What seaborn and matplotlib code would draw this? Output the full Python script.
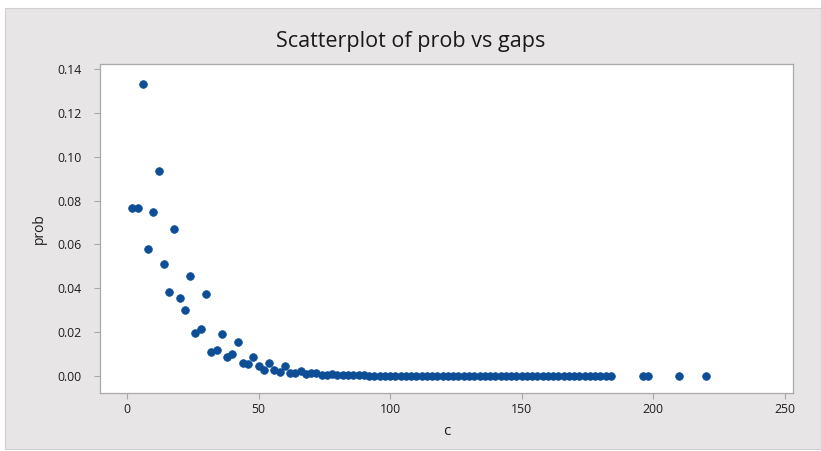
import matplotlib
matplotlib.use("Agg")
import matplotlib.pyplot as plt
import seaborn as sns
import pandas as pd
from matplotlib.patches import Rectangle

# Gap sizes between consecutive primes and their relative frequencies
gaps = [2, 4, 6, 8, 10, 12, 14, 16, 18, 20, 22, 24, 26, 28, 30, 32, 34, 36, 38, 40,
        42, 44, 46, 48, 50, 52, 54, 56, 58, 60, 62, 64, 66, 68, 70, 72, 74, 76, 78, 80,
        82, 84, 86, 88, 90, 92, 94, 96, 98, 100, 102, 104, 106, 108, 110, 112, 114, 116, 118, 120,
        122, 124, 126, 128, 130, 132, 134, 136, 138, 140, 142, 144, 146, 148, 150, 152, 154, 156, 158, 160,
        162, 164, 166, 168, 170, 172, 174, 176, 178, 180, 182, 184, 196, 198, 210, 220]
prob = [0.0764, 0.0764, 0.1334, 0.0580, 0.0746, 0.0934, 0.0509, 0.0382, 0.0668, 0.0354,
        0.0300, 0.0458, 0.0197, 0.0215, 0.0375, 0.0107, 0.0118, 0.0190, 0.0086, 0.0100,
        0.0153, 0.0059, 0.0054, 0.0087, 0.0044, 0.0029, 0.0059, 0.0026, 0.0019, 0.0047,
        0.0012, 0.0011, 0.0024, 0.0008, 0.0012, 0.0012, 0.0004, 0.0004, 0.0007, 0.0004,
        0.0002, 0.0005, 0.0002, 0.0002, 0.0003, 0.0001, 0.0001, 0.0001, 0.0001, 0.0001,
        0.0001, 0.0, 0.0, 0.0001, 0.0, 0.0, 0.0, 0.0, 0.0, 0.0,
        0.0, 0.0, 0.0, 0.0, 0.0, 0.0, 0.0, 0.0, 0.0, 0.0,
        0.0, 0.0, 0.0, 0.0, 0.0, 0.0, 0.0, 0.0, 0.0, 0.0,
        0.0, 0.0, 0.0, 0.0, 0.0, 0.0, 0.0, 0.0, 0.0, 0.0,
        0.0, 0.0, 0.0, 0.0, 0.0, 0.0]

x_ticks = [0, 50, 100, 150, 200, 250]
y_ticks = [0.00, 0.02, 0.04, 0.06, 0.08, 0.10, 0.12, 0.14]

df = pd.DataFrame({"c": gaps, "prob": prob})

sns.set_theme(style="white")
plt.rcParams["font.family"] = ["Open Sans", "DejaVu Sans"]

fig = plt.figure(figsize=(8.21, 4.51), dpi=100)
fig.patch.set_facecolor("white")
# light grey panel behind the plot
fig.patches.append(Rectangle((5 / 821, 0.004), 1 - 5 / 821, 1 - 8 / 451 - 0.004,
                             transform=fig.transFigure, facecolor="#e7e5e5",
                             edgecolor="#d0cece", linewidth=0.8, zorder=-10))

ax = fig.add_axes([100 / 821, 1 - 393 / 451, (793 - 100) / 821, (393 - 64) / 451])
ax.set_zorder(1)
ax.set_facecolor("white")

sns.scatterplot(data=df, x="c", y="prob", ax=ax, color="#0d4e96", s=30,
                marker="o", edgecolor="#0d4e96", linewidth=0.6)

ax.set_xlim(-10.3, 253.2)
ax.set_ylim(-0.0078, 0.1423)
ax.set_xticks(x_ticks)
ax.set_yticks(y_ticks)
ax.set_yticklabels([f"{v:.2f}" for v in y_ticks])

for s in ax.spines.values():
    s.set_color("#a9a9a9")
    s.set_linewidth(0.9)

ax.tick_params(axis="both", which="both", direction="out", length=4, width=0.8,
               color="#a9a9a9", labelsize=8.8, labelcolor="#1e1e1e", left=True, bottom=True)
ax.tick_params(axis="y", pad=9)
ax.tick_params(axis="x", pad=3)

ax.set_xlabel("c", fontsize=11, color="#1e1e1e", labelpad=6)
ax.set_ylabel("prob", fontsize=10, color="#1e1e1e", labelpad=8)

fig.text(0.50, 1 - 41 / 451, "Scatterplot of prob vs gaps", ha="center", va="center",
         fontsize=15.5, color="#1a1a1a")

fig.savefig("out.png", dpi=100, facecolor=fig.get_facecolor())
